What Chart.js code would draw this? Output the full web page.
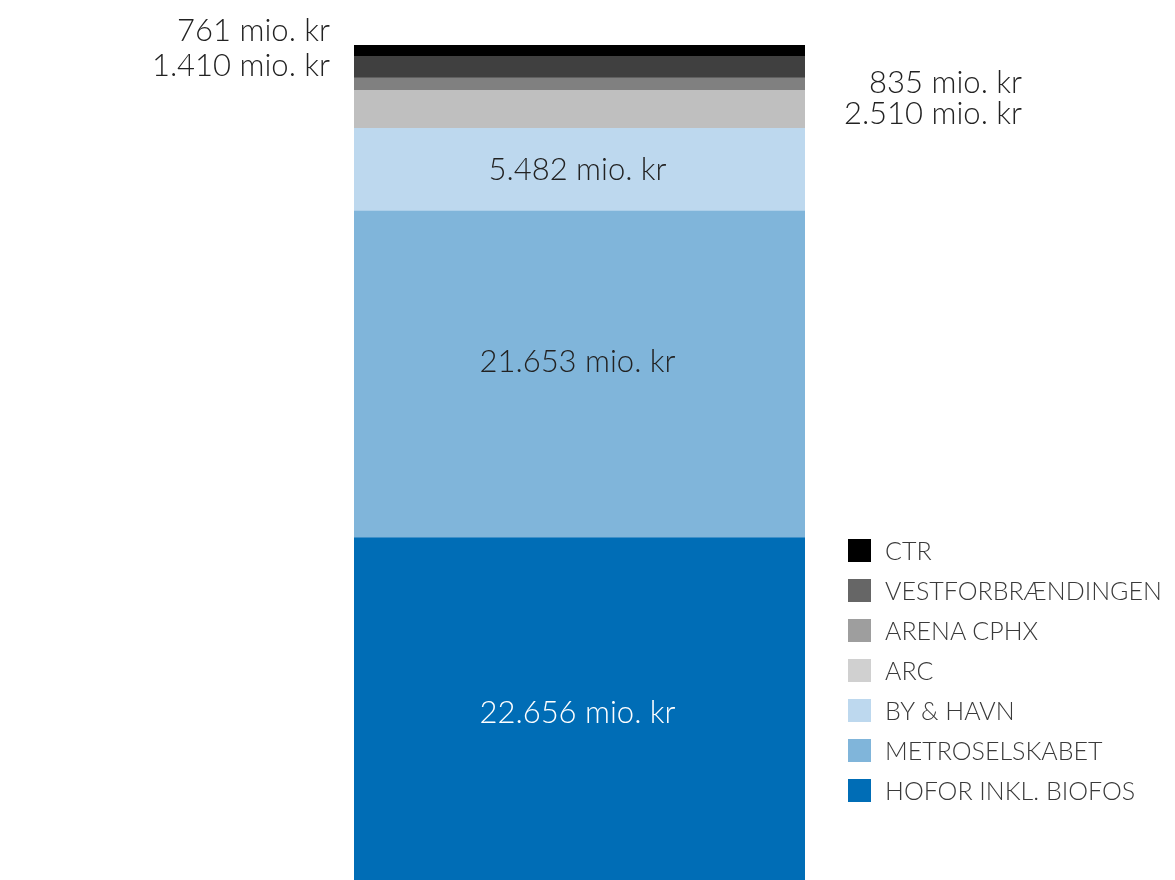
<!DOCTYPE html>
<html>
<head>
<meta charset="utf-8">
<script src="https://cdn.jsdelivr.net/npm/chart.js@4/dist/chart.umd.min.js"></script>
<style>
  html, body { margin: 0; padding: 0; background: #fff; }
  #wrap { position: relative; width: 1175px; height: 880px; overflow: hidden; }
  #legend { position: absolute; left: 848px; top: 530px; font-family: Lato, "Open Sans", sans-serif; font-weight: 300; font-size: 25px; color: #3a3a3a; }
  #legend div { height: 40px; display: flex; align-items: center; white-space: nowrap; }
  #legend span.box { display: inline-block; width: 23px; height: 23px; margin-right: 14px; }
</style>
</head>
<body>
<div id="wrap">
  <canvas id="barChart" width="1175" height="880"></canvas>
  <div id="legend"></div>
</div>
<script>
// stacked from bottom to top
const names = ['HOFOR INKL. BIOFOS', 'METROSELSKABET', 'BY & HAVN', 'ARC', 'ARENA CPHX', 'VESTFORBRÆNDINGEN', 'CTR'];
const values = [22656, 21653, 5482, 2510, 835, 1410, 761];
const valueLabels = ['22.656 mio. kr', '21.653 mio. kr', '5.482 mio. kr', '2.510 mio. kr', '835 mio. kr', '1.410 mio. kr', '761 mio. kr'];

const barColors = ['#006db6', '#80b5da', '#bdd8ee', '#bfbfbf', '#808080', '#404040', '#000000'];
const legendColors = ['#006db6', '#80b5da', '#bdd8ee', '#d0d0d0', '#9e9e9e', '#666666', '#000000'];
// where each value label goes and a small vertical nudge
const labelSpots = [
  { side: 'in', dy: 4, color: '#ffffff' },
  { side: 'in', dy: -12, color: '#222222' },
  { side: 'in', dy: 0, color: '#222222' },
  { side: 'right', dy: 5, color: '#222222' },
  { side: 'right', dy: -1, color: '#222222' },
  { side: 'left', dy: -1, color: '#222222' },
  { side: 'left', dy: -20, color: '#222222' }
];

const total = values.reduce((a, b) => a + b, 0);

const valueLabelPlugin = {
  id: 'valueLabels',
  afterDatasetsDraw(chart) {
    const ctx = chart.ctx;
    ctx.save();
    ctx.font = '300 31px Lato, "Open Sans", sans-serif';
    ctx.textBaseline = 'middle';
    chart.data.datasets.forEach((ds, i) => {
      const bar = chart.getDatasetMeta(i).data[0];
      const spot = labelSpots[i];
      const half = bar.width / 2;
      const y = (bar.y + bar.base) / 2 + spot.dy;
      ctx.fillStyle = spot.color;
      if (spot.side === 'in') {
        ctx.textAlign = 'center';
        ctx.fillText(valueLabels[i], bar.x - 2, y);
      } else if (spot.side === 'left') {
        ctx.textAlign = 'right';
        ctx.fillText(valueLabels[i], bar.x - half - 24, y);
      } else {
        ctx.textAlign = 'right';
        ctx.fillText(valueLabels[i], bar.x + half + 217, y);
      }
    });
    ctx.restore();
  }
};

const ctx = document.getElementById('barChart').getContext('2d');
const barChart = new Chart(ctx, {
  type: 'bar',
  data: {
    labels: ['Total'],
    datasets: names.map((n, i) => ({
      label: n,
      data: [values[i]],
      backgroundColor: barColors[i],
      borderWidth: 0,
      barPercentage: 1,
      categoryPercentage: 1
    }))
  },
  options: {
    responsive: false,
    animation: false,
    layout: { padding: { left: 354, right: 370, top: 45, bottom: -3 } },
    plugins: { legend: { display: false }, tooltip: { enabled: false } },
    scales: {
      x: { stacked: true, display: false },
      y: { stacked: true, display: false, min: 0, max: total }
    }
  },
  plugins: [valueLabelPlugin]
});

// legend, top to bottom
const legend = document.getElementById('legend');
for (let i = names.length - 1; i >= 0; i--) {
  const row = document.createElement('div');
  row.innerHTML = '<span class="box" style="background:' + legendColors[i] + '"></span>' + names[i];
  legend.appendChild(row);
}
</script>
</body>
</html>
